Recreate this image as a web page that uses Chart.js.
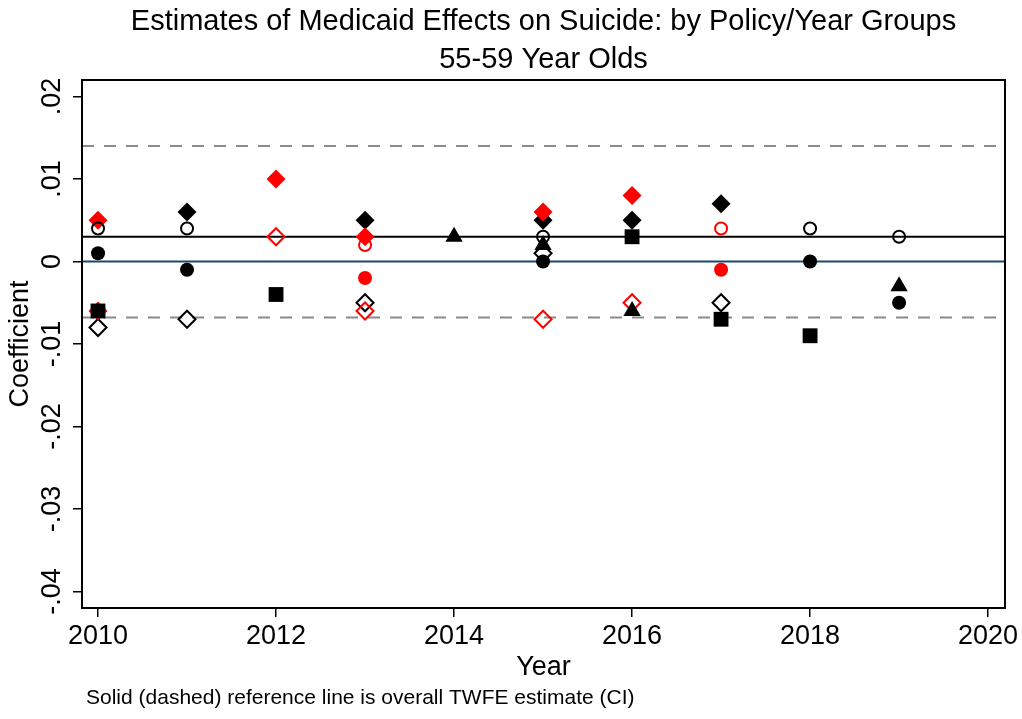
<!DOCTYPE html>
<html>
<head>
<meta charset="utf-8">
<script src="https://cdn.jsdelivr.net/npm/chart.js@4"></script>
<style>
  html, body { margin: 0; padding: 0; background: #fff; }
  #wrap { width: 1022px; height: 719px; }
</style>
</head>
<body>
<div id="wrap"><canvas id="grafikEfek" width="1022" height="719"></canvas></div>
<script>
// years and estimates, one pair of arrays per marker style
const redDiamondYears = [2010, 2010, 2012, 2013, 2015, 2016];
const redDiamondVals  = [0.005, -0.006, 0.010, 0.003, 0.006, 0.008];

const redHollowDiamondYears = [2012, 2013, 2015, 2016];
const redHollowDiamondVals  = [0.003, -0.006, -0.007, -0.005];

const blackDiamondYears = [2011, 2013, 2015, 2016, 2017];
const blackDiamondVals  = [0.006, 0.005, 0.005, 0.005, 0.007];

const hollowDiamondYears = [2010, 2011, 2013, 2015, 2017];
const hollowDiamondVals  = [-0.008, -0.007, -0.005, 0.001, -0.005];

const hollowCircleYears = [2010, 2011, 2015, 2018, 2019];
const hollowCircleVals  = [0.004, 0.004, 0.003, 0.004, 0.003];

const circleYears = [2010, 2011, 2015, 2018, 2019];
const circleVals  = [0.001, -0.001, 0.000, 0.000, -0.005];

const redHollowCircleYears = [2013, 2017];
const redHollowCircleVals  = [0.002, 0.004];

const redCircleYears = [2013, 2017];
const redCircleVals  = [-0.002, -0.001];

const squareYears = [2010, 2012, 2016, 2017, 2018];
const squareVals  = [-0.006, -0.004, 0.003, -0.007, -0.009];

const triangleYears = [2014, 2015, 2016, 2019];
const triangleVals  = [0.003, 0.002, -0.006, -0.003];

// overall TWFE estimate and its CI
const twfeEstimate = 0.003;
const ciLow = -0.0068;
const ciHigh = 0.014;

const xMin = 2009.82, xMax = 2020.19;
const yMin = -0.042, yMax = 0.022;

const RED = '#ff0000';
const BLACK = '#000000';
const NONE = 'rgba(0,0,0,0)';
const FONT = "'Liberation Sans', Arial, Helvetica, sans-serif";

Chart.defaults.font.family = FONT;
Chart.defaults.color = '#000';

function pts(xs, ys) {
    return xs.map((x, i) => ({ x: x, y: ys[i] }));
}

function markers(label, xs, ys, style, fill, stroke, radius, border, order) {
    return {
        label: label,
        data: pts(xs, ys),
        pointStyle: style,
        pointRadius: radius,
        pointBackgroundColor: fill,
        pointBorderColor: stroke,
        pointBorderWidth: border,
        showLine: false,
        order: order
    };
}

function refLine(label, y, color, dash, order) {
    return {
        label: label,
        data: [{ x: xMin, y: y }, { x: xMax, y: y }],
        showLine: true,
        borderColor: color,
        borderWidth: 2,
        borderDash: dash,
        pointRadius: 0,
        order: order
    };
}

const datasets = [
    refLine('zero', 0, '#1a476f', [], 200),
    refLine('ci high', ciHigh, '#8a8a8a', [12, 10], 201),
    refLine('ci low', ciLow, '#8a8a8a', [12, 10], 202),
    refLine('twfe', twfeEstimate, BLACK, [], 199),
    markers('square', squareYears, squareVals, 'rect', BLACK, BLACK, 10.5, 0, 1),
    markers('triangle', triangleYears, triangleVals, 'triangle', BLACK, BLACK, 10, 0, 2),
    markers('red circle', redCircleYears, redCircleVals, 'circle', RED, RED, 7, 0, 3),
    markers('circle', circleYears, circleVals, 'circle', BLACK, BLACK, 7, 0, 4),
    markers('red hollow circle', redHollowCircleYears, redHollowCircleVals, 'circle', NONE, RED, 6, 2, 5),
    markers('hollow circle', hollowCircleYears, hollowCircleVals, 'circle', NONE, BLACK, 6, 2, 6),
    markers('red hollow diamond', redHollowDiamondYears, redHollowDiamondVals, 'rectRot', NONE, RED, 8.5, 2, 7),
    markers('red diamond', redDiamondYears, redDiamondVals, 'rectRot', RED, RED, 9.5, 0, 8),
    markers('hollow diamond', hollowDiamondYears, hollowDiamondVals, 'rectRot', NONE, BLACK, 8.5, 2, 9),
    markers('black diamond', blackDiamondYears, blackDiamondVals, 'rectRot', BLACK, BLACK, 9.5, 0, 10)
];

function yLabel(v) {
    if (Math.abs(v) < 1e-9) return '0';
    const s = Math.abs(v).toFixed(2).replace(/^0/, '');
    return (v < 0 ? '-' : '') + s;
}

// box round the plot, tick labels (y ones rotated), note under the chart
const extras = {
    id: 'extras',
    afterDraw(chart) {
        const ctx = chart.ctx;
        const a = chart.chartArea;
        const xs = chart.scales.x;
        const ys = chart.scales.y;
        ctx.save();
        ctx.strokeStyle = '#000';
        ctx.lineWidth = 2;
        ctx.strokeRect(a.left, a.top, a.right - a.left, a.bottom - a.top);

        ctx.fillStyle = '#000';
        ctx.font = '27px ' + FONT;
        ctx.textAlign = 'center';
        ctx.textBaseline = 'middle';
        xs.ticks.forEach(t => {
            ctx.fillText(String(t.value), xs.getPixelForValue(t.value), a.bottom + 29);
        });
        ys.ticks.forEach(t => {
            const py = ys.getPixelForValue(t.value);
            ctx.save();
            ctx.translate(53, py);
            ctx.rotate(-Math.PI / 2);
            ctx.fillText(yLabel(t.value), 0, 0);
            ctx.restore();
        });

        ctx.font = '21px ' + FONT;
        ctx.textAlign = 'left';
        ctx.fillText('Solid (dashed) reference line is overall TWFE estimate (CI)', 86, 698);
        ctx.restore();
    }
};

const ctx = document.getElementById('grafikEfek').getContext('2d');

const grafikEfek = new Chart(ctx, {
    type: 'scatter',
    data: { datasets: datasets },
    options: {
        responsive: false,
        animation: false,
        devicePixelRatio: 1,
        layout: { padding: { left: 0, right: 17, top: 0, bottom: 38 } },
        scales: {
            x: {
                type: 'linear',
                min: xMin,
                max: xMax,
                ticks: { stepSize: 2, includeBounds: false, display: false },
                grid: { drawOnChartArea: false, tickLength: 9, color: '#000', lineWidth: 1.5 },
                border: { color: '#000', width: 2 },
                title: { display: true, text: 'Year', font: { size: 27, lineHeight: 1 }, padding: { top: 37, bottom: 0 }, color: '#000' }
            },
            y: {
                type: 'linear',
                min: yMin,
                max: yMax,
                ticks: { stepSize: 0.01, includeBounds: false, display: false },
                grid: { drawOnChartArea: false, tickLength: 9, color: '#000', lineWidth: 1.5 },
                border: { color: '#000', width: 2 },
                title: { display: true, text: 'Coefficient', font: { size: 27, lineHeight: 1 }, padding: { top: 7, bottom: 39 }, color: '#000' }
            }
        },
        plugins: {
            legend: { display: false },
            tooltip: { enabled: false },
            title: {
                display: true,
                fullSize: false,
                text: ['Estimates of Medicaid Effects on Suicide: by Policy/Year Groups', '55-59 Year Olds'],
                font: { size: 29, weight: 'normal', lineHeight: '38px' },
                padding: { top: 3, bottom: 1 },
                color: '#000'
            }
        }
    },
    plugins: [extras]
});
</script>
</body>
</html>
